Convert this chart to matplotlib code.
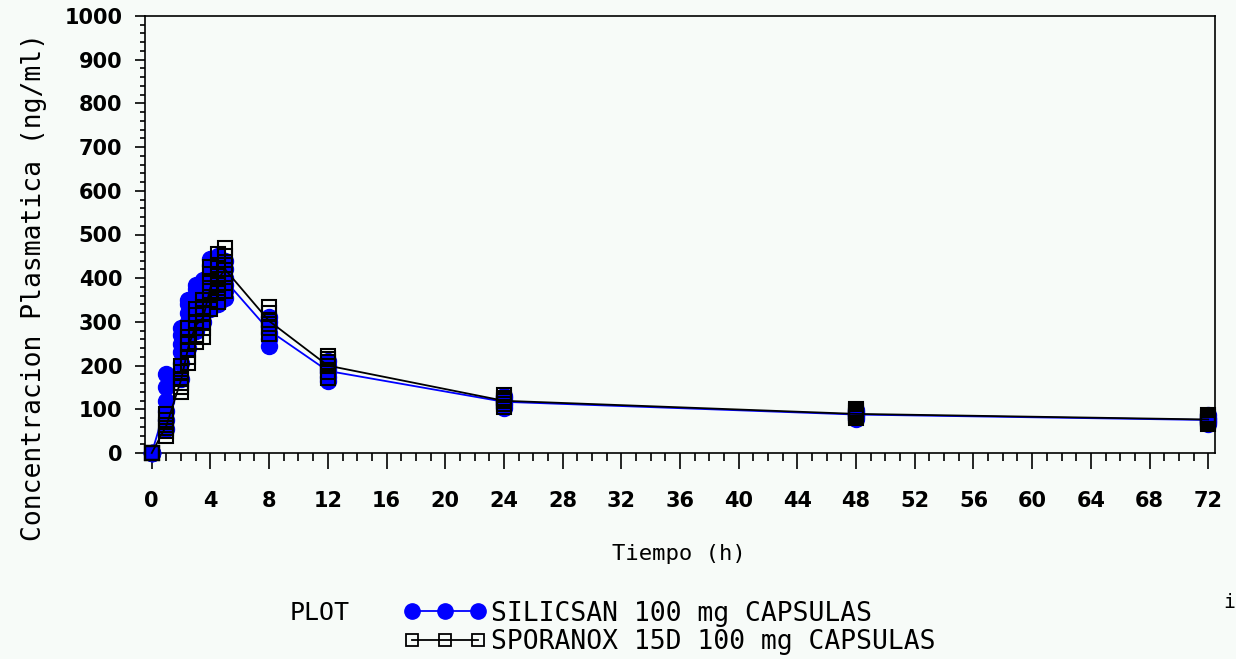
import numpy as np
import matplotlib
matplotlib.use("Agg")
import matplotlib.pyplot as plt
from matplotlib.ticker import MultipleLocator
from matplotlib.lines import Line2D
from matplotlib.font_manager import FontProperties

# sampling times (h)
times = [0, 1, 2, 2.5, 3, 3.5, 4, 4.5, 5, 8, 12, 24, 48, 72]

# individual plasma levels (ng/ml), one row per time point
silicsan = [
    [0, 0, 0, 0, 0, 0],
    [55, 75, 95, 120, 150, 180],
    [170, 205, 230, 250, 270, 285],
    [240, 270, 300, 320, 340, 350],
    [280, 310, 340, 360, 375, 385],
    [300, 330, 350, 370, 385, 395],
    [330, 360, 385, 410, 430, 445],
    [340, 370, 395, 420, 440, 450],
    [355, 370, 385, 400, 420, 440],
    [245, 260, 275, 290, 300, 312],
    [165, 175, 185, 192, 200, 210],
    [103, 110, 115, 120, 125, 130],
    [78, 82, 86, 90, 94, 98],
    [66, 70, 73, 77, 81, 86],
]
sporanox = [
    [0, 0, 0, 0, 0, 0],
    [40, 50, 58, 65, 75, 90],
    [140, 150, 160, 170, 185, 200],
    [205, 220, 235, 250, 265, 285],
    [255, 270, 285, 300, 315, 330],
    [265, 285, 300, 320, 335, 350],
    [330, 350, 370, 390, 410, 425],
    [345, 365, 385, 405, 430, 455],
    [370, 390, 410, 430, 450, 470],
    [272, 285, 295, 305, 320, 335],
    [172, 185, 198, 208, 215, 222],
    [105, 112, 118, 122, 127, 133],
    [79, 84, 88, 91, 95, 100],
    [67, 71, 74, 78, 82, 88],
]
labels = ["SILICSAN 100 mg CAPSULAS", "SPORANOX 15D 100 mg CAPSULAS"]

bg = "#f7fbf8"
W, H = 1236, 659
fig = plt.figure(figsize=(W / 100, H / 100), dpi=100, facecolor=bg)
ax = fig.add_axes([145 / W, 1 - 453 / H, (1215 - 145) / W, (453 - 16) / H])
ax.set_facecolor(bg)

t = np.array(times, dtype=float)
sil = np.array(silicsan, dtype=float)
spo = np.array(sporanox, dtype=float)

# individual points + mean curves
ax.plot(np.repeat(t, sil.shape[1]), sil.ravel(), linestyle="none", marker="o",
        ms=11.5, mfc="#0000ff", mec="#0000ff", clip_on=False, zorder=3)
ax.plot(t, sil.mean(axis=1), color="#0000ff", lw=1.3, clip_on=False, zorder=3.1)
ax.plot(np.repeat(t, spo.shape[1]), spo.ravel(), linestyle="none", marker="s",
        ms=10.5, mfc="none", mec="black", mew=1.5, clip_on=False, zorder=3.2)
ax.plot(t, spo.mean(axis=1), color="black", lw=1.3, clip_on=False, zorder=3.3)

ax.set_xlim(-0.46, 72.46)
ax.set_ylim(0, 1000)
ax.xaxis.set_major_locator(MultipleLocator(4))
ax.xaxis.set_minor_locator(MultipleLocator(1))
ax.yaxis.set_major_locator(MultipleLocator(100))
ax.yaxis.set_minor_locator(MultipleLocator(20))

for s in ax.spines.values():
    s.set_linewidth(1.2)
ax.tick_params(axis="x", which="major", direction="out", length=11.5, width=1.2, pad=16)
ax.tick_params(axis="x", which="minor", direction="out", length=5.8, width=1.2)
ax.tick_params(axis="y", which="major", direction="out", length=7.2, width=1.2, pad=9)
ax.tick_params(axis="y", which="minor", direction="out", length=3.6, width=1.2)
for lab in ax.get_xticklabels() + ax.get_yticklabels():
    lab.set_fontfamily("DejaVu Sans")
    lab.set_fontweight("bold")
    lab.set_fontsize(15)

fig.text(679 / W, 1 - 554 / H, "Tiempo (h)", ha="center", va="center",
         family="DejaVu Sans Mono", fontsize=16)
fig.text(34 / W, 1 - 287 / H, "Concentracion Plasmatica (ng/ml)", ha="center",
         va="center", rotation=90, family="DejaVu Sans Mono", fontsize=19)

# legend
fig.text(290 / W, 1 - 613 / H, "PLOT", ha="left", va="center",
         family="DejaVu Sans Mono", fontsize=18)
handles = [
    Line2D([], [], color="#0000ff", lw=1.3, marker="o", ms=11, mfc="#0000ff", mec="#0000ff"),
    Line2D([], [], color="black", lw=1.3, marker="s", ms=9, mfc="none", mec="black", mew=1.3),
]
fig.legend(handles, labels, loc="center left", bbox_to_anchor=(380 / W, 1 - 628 / H),
           frameon=False, numpoints=3, handlelength=3.1, handletextpad=0.2,
           labelspacing=0.1, borderpad=0.4,
           prop=FontProperties(family="DejaVu Sans Mono", size=19))

fig.text(1229 / W, 1 - 603 / H, "i", ha="center", va="center",
         family="DejaVu Sans Mono", fontsize=14)

fig.savefig("out.png", dpi=100, facecolor=bg)
